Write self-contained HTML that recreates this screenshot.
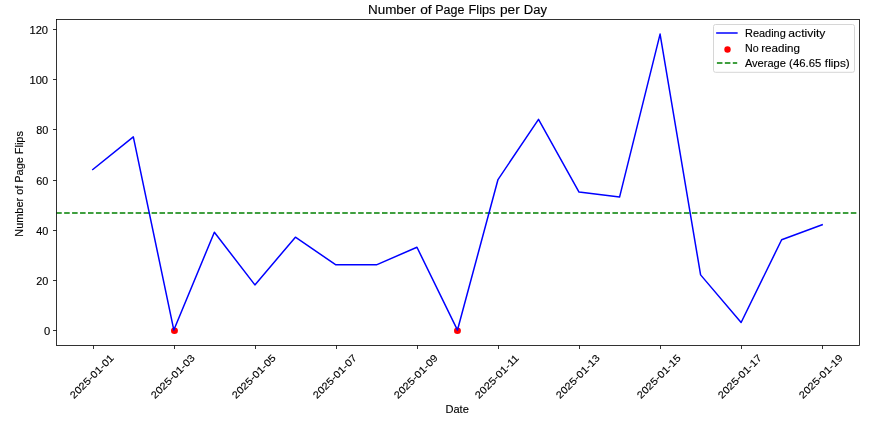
<!DOCTYPE html><html><head><meta charset="utf-8"><style>html,body{margin:0;padding:0;background:#fff;width:882px;height:426px;overflow:hidden}svg{display:block;will-change:transform}text{font-family:"Liberation Sans", sans-serif;fill:#000;stroke:#000;stroke-width:0.12px}</style></head><body>
<svg width="882" height="426" viewBox="0 0 882 426">
<rect x="0" y="0" width="882" height="426" fill="#fff"/>
<line x1="56.5" y1="213.00" x2="858.6" y2="213.00" stroke="#008000" stroke-width="1.5" stroke-dasharray="5.55 2.396" stroke-dashoffset="0.3"/>
<ellipse cx="174.45" cy="330.80" rx="3.45" ry="3.2" fill="#ff0000"/>
<ellipse cx="457.45" cy="330.80" rx="3.45" ry="3.2" fill="#ff0000"/>
<polyline points="92.80,169.52 133.32,136.91 173.84,330.05 214.36,232.23 254.88,284.90 295.40,237.24 335.92,264.83 376.44,264.83 416.96,247.28 457.48,330.05 498.00,179.55 538.52,119.35 579.04,192.09 619.56,197.11 660.08,34.07 700.60,274.87 741.12,322.53 781.64,239.75 822.16,224.70" fill="none" stroke="#0000ff" stroke-width="1.5" stroke-linejoin="round" stroke-linecap="square"/>
<rect x="56.5" y="19.5" width="803.0" height="326.0" fill="none" stroke="#000" stroke-width="0.8"/>
<line x1="53.0" y1="330.5" x2="56.5" y2="330.5" stroke="#000" stroke-width="0.8"/>
<text x="50.10" y="335.0" font-size="10" text-anchor="end" textLength="6.20" lengthAdjust="spacingAndGlyphs">0</text>
<line x1="53.0" y1="280.5" x2="56.5" y2="280.5" stroke="#000" stroke-width="0.8"/>
<text x="48.35" y="285.0" font-size="10" text-anchor="end" textLength="12.10" lengthAdjust="spacingAndGlyphs">20</text>
<line x1="53.0" y1="230.5" x2="56.5" y2="230.5" stroke="#000" stroke-width="0.8"/>
<text x="48.35" y="235.0" font-size="10" text-anchor="end" textLength="12.10" lengthAdjust="spacingAndGlyphs">40</text>
<line x1="53.0" y1="180.5" x2="56.5" y2="180.5" stroke="#000" stroke-width="0.8"/>
<text x="48.35" y="185.0" font-size="10" text-anchor="end" textLength="12.10" lengthAdjust="spacingAndGlyphs">60</text>
<line x1="53.0" y1="129.5" x2="56.5" y2="129.5" stroke="#000" stroke-width="0.8"/>
<text x="48.35" y="134.0" font-size="10" text-anchor="end" textLength="12.10" lengthAdjust="spacingAndGlyphs">80</text>
<line x1="53.0" y1="79.5" x2="56.5" y2="79.5" stroke="#000" stroke-width="0.8"/>
<text x="48.05" y="84.0" font-size="10" text-anchor="end" textLength="18.60" lengthAdjust="spacingAndGlyphs">100</text>
<line x1="53.0" y1="29.5" x2="56.5" y2="29.5" stroke="#000" stroke-width="0.8"/>
<text x="48.05" y="34.0" font-size="10" text-anchor="end" textLength="18.60" lengthAdjust="spacingAndGlyphs">120</text>
<line x1="93.5" y1="345.5" x2="93.5" y2="349.0" stroke="#000" stroke-width="0.8"/>
<text transform="translate(114.50,358.7) rotate(-45)" font-size="10" text-anchor="end" textLength="57.3" lengthAdjust="spacingAndGlyphs">2025-01-01</text>
<line x1="174.5" y1="345.5" x2="174.5" y2="349.0" stroke="#000" stroke-width="0.8"/>
<text transform="translate(195.50,358.7) rotate(-45)" font-size="10" text-anchor="end" textLength="57.3" lengthAdjust="spacingAndGlyphs">2025-01-03</text>
<line x1="255.5" y1="345.5" x2="255.5" y2="349.0" stroke="#000" stroke-width="0.8"/>
<text transform="translate(276.50,358.7) rotate(-45)" font-size="10" text-anchor="end" textLength="57.3" lengthAdjust="spacingAndGlyphs">2025-01-05</text>
<line x1="336.5" y1="345.5" x2="336.5" y2="349.0" stroke="#000" stroke-width="0.8"/>
<text transform="translate(357.50,358.7) rotate(-45)" font-size="10" text-anchor="end" textLength="57.3" lengthAdjust="spacingAndGlyphs">2025-01-07</text>
<line x1="417.5" y1="345.5" x2="417.5" y2="349.0" stroke="#000" stroke-width="0.8"/>
<text transform="translate(438.50,358.7) rotate(-45)" font-size="10" text-anchor="end" textLength="57.3" lengthAdjust="spacingAndGlyphs">2025-01-09</text>
<line x1="498.5" y1="345.5" x2="498.5" y2="349.0" stroke="#000" stroke-width="0.8"/>
<text transform="translate(519.50,358.7) rotate(-45)" font-size="10" text-anchor="end" textLength="57.3" lengthAdjust="spacingAndGlyphs">2025-01-11</text>
<line x1="579.5" y1="345.5" x2="579.5" y2="349.0" stroke="#000" stroke-width="0.8"/>
<text transform="translate(600.50,358.7) rotate(-45)" font-size="10" text-anchor="end" textLength="57.3" lengthAdjust="spacingAndGlyphs">2025-01-13</text>
<line x1="660.5" y1="345.5" x2="660.5" y2="349.0" stroke="#000" stroke-width="0.8"/>
<text transform="translate(681.50,358.7) rotate(-45)" font-size="10" text-anchor="end" textLength="57.3" lengthAdjust="spacingAndGlyphs">2025-01-15</text>
<line x1="741.5" y1="345.5" x2="741.5" y2="349.0" stroke="#000" stroke-width="0.8"/>
<text transform="translate(762.50,358.7) rotate(-45)" font-size="10" text-anchor="end" textLength="57.3" lengthAdjust="spacingAndGlyphs">2025-01-17</text>
<line x1="822.5" y1="345.5" x2="822.5" y2="349.0" stroke="#000" stroke-width="0.8"/>
<text transform="translate(843.50,358.7) rotate(-45)" font-size="10" text-anchor="end" textLength="57.3" lengthAdjust="spacingAndGlyphs">2025-01-19</text>
<text x="445.4" y="412.8" font-size="10" textLength="23.4" lengthAdjust="spacingAndGlyphs">Date</text>
<text transform="translate(22.7,236.7) rotate(-90)" font-size="10" textLength="105.6" lengthAdjust="spacingAndGlyphs">Number of Page Flips</text>
<rect x="713.5" y="24.5" width="141" height="47.8" rx="2" ry="2" fill="#fff" fill-opacity="0.8" stroke="#d6d6d6" stroke-width="1"/>
<line x1="716.9" y1="33.0" x2="736.9" y2="33.0" stroke="#0000ff" stroke-width="1.5" stroke-linecap="square"/>
<circle cx="727.5" cy="49.5" r="3.2" fill="#ff0000"/>
<line x1="716.9" y1="62.9" x2="737.2" y2="62.9" stroke="#008000" stroke-width="1.5" stroke-dasharray="5.55 2.4"/>
<text x="367.95" y="13.9" font-size="12" textLength="47.85" lengthAdjust="spacingAndGlyphs">Number</text>
<text x="420.17" y="13.9" font-size="12" textLength="11.49" lengthAdjust="spacingAndGlyphs">of</text>
<text x="435.23" y="13.9" font-size="12" textLength="29.20" lengthAdjust="spacingAndGlyphs">Page</text>
<text x="468.49" y="13.9" font-size="12" textLength="27.02" lengthAdjust="spacingAndGlyphs">Flips</text>
<text x="499.99" y="13.9" font-size="12" textLength="19.77" lengthAdjust="spacingAndGlyphs">per</text>
<text x="523.89" y="13.9" font-size="12" textLength="23.17" lengthAdjust="spacingAndGlyphs">Day</text>
<text x="745.05" y="36.9" font-size="10" textLength="40.67" lengthAdjust="spacingAndGlyphs">Reading</text>
<text x="788.37" y="36.9" font-size="10" textLength="37.08" lengthAdjust="spacingAndGlyphs">activity</text>
<text x="745.14" y="51.6" font-size="10" textLength="13.65" lengthAdjust="spacingAndGlyphs">No</text>
<text x="761.26" y="51.6" font-size="10" textLength="38.70" lengthAdjust="spacingAndGlyphs">reading</text>
<text x="744.92" y="66.7" font-size="10" textLength="41.01" lengthAdjust="spacingAndGlyphs">Average</text>
<text x="789.14" y="66.7" font-size="10" textLength="32.15" lengthAdjust="spacingAndGlyphs">(46.65</text>
<text x="824.87" y="66.7" font-size="10" textLength="24.88" lengthAdjust="spacingAndGlyphs">flips)</text>
</svg></body></html>
